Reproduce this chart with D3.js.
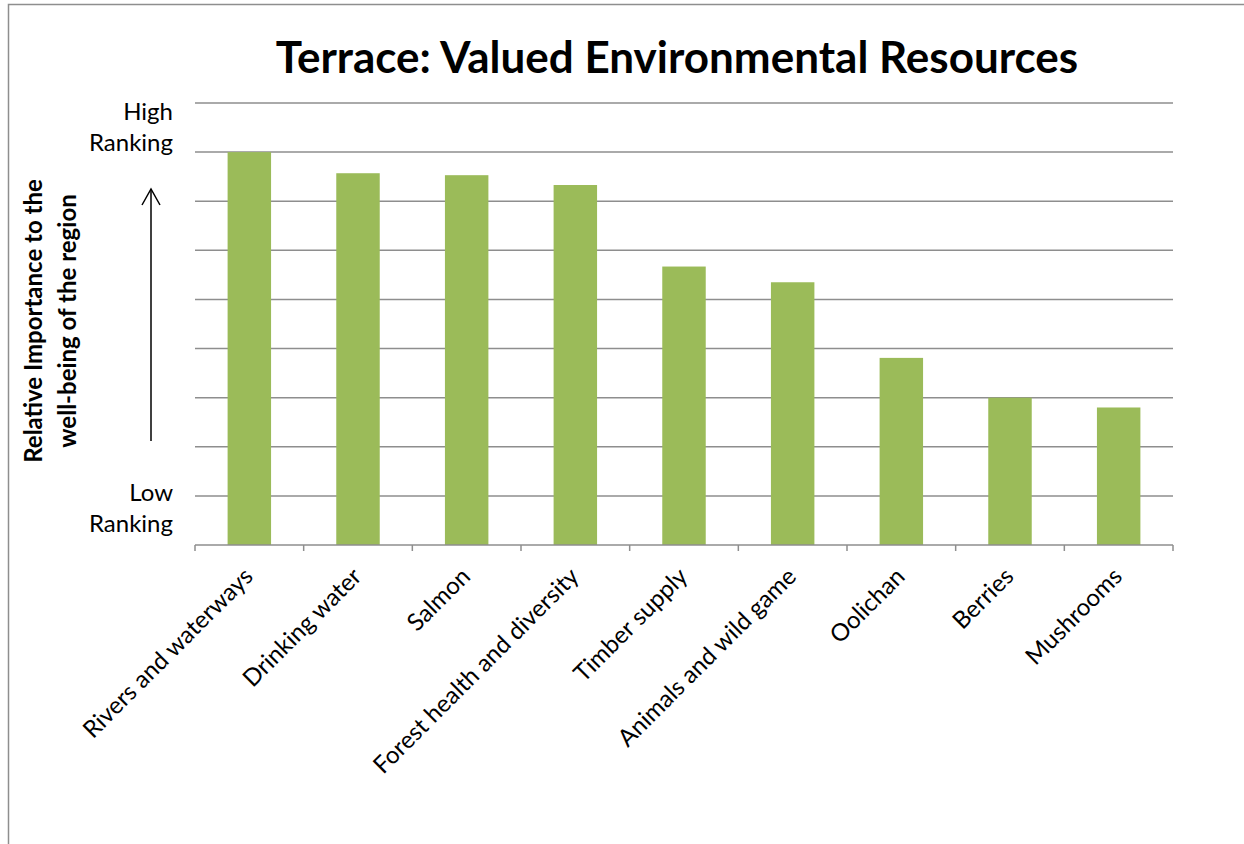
<!DOCTYPE html>
<html>
<head>
<meta charset="utf-8">
<script src="https://cdn.jsdelivr.net/npm/d3@7"></script>
<style>
  html, body { margin: 0; padding: 0; background: #fff; }
  svg { display: block; }
  text { font-family: Lato, "Open Sans", sans-serif; fill: #000; }
</style>
</head>
<body>
<svg id="chart" width="1244" height="844"></svg>
<script>
const title = "Terrace: Valued Environmental Resources";
const categories = ["Rivers and waterways", "Drinking water", "Salmon", "Forest health and diversity",
  "Timber supply", "Animals and wild game", "Oolichan", "Berries", "Mushrooms"];
const values = [8.0, 7.57, 7.53, 7.33, 5.67, 5.35, 3.81, 3.0, 2.8];
const yDomain = [0, 9];
const gridValues = [1, 2, 3, 4, 5, 6, 7, 8, 9];
const yTickLabels = [
  { lines: ["High", "Ranking"], value: 8.5 },
  { lines: ["Low", "Ranking"], value: 0.75 }
];
const yTitleLines = ["Relative Importance to the", "well-being of the region"];

const svg = d3.select("#chart");
const W = 1244, H = 844;
const plot = { left: 195, right: 1173, top: 103, bottom: 545 };

// outer chart border (extends off right/bottom)
svg.append("rect")
  .attr("x", 8.5).attr("y", 4.5)
  .attr("width", W + 20).attr("height", H + 20)
  .attr("fill", "none").attr("stroke", "#8e8e8e").attr("stroke-width", 1.5);

const x = d3.scaleBand().domain(categories)
  .range([plot.left, plot.right]).paddingInner(0.6).paddingOuter(0.3);
const y = d3.scaleLinear().domain(yDomain).range([plot.bottom, plot.top]);

// gridlines
svg.append("g").selectAll("line").data(gridValues).join("line")
  .attr("x1", plot.left).attr("x2", plot.right)
  .attr("y1", d => y(d)).attr("y2", d => y(d))
  .attr("stroke", "#8e8e8e").attr("stroke-width", 1.5);

// bars
svg.append("g").selectAll("rect").data(values).join("rect")
  .attr("x", (d, i) => x(categories[i]))
  .attr("width", x.bandwidth())
  .attr("y", d => y(d))
  .attr("height", d => y(0) - y(d))
  .attr("fill", "#9bbb59");

// x axis baseline and tick marks at category boundaries
const xAxisG = svg.append("g");
xAxisG.append("line")
  .attr("x1", plot.left).attr("x2", plot.right)
  .attr("y1", y(0)).attr("y2", y(0))
  .attr("stroke", "#8e8e8e").attr("stroke-width", 1.5);
const step = x.step();
const boundaries = d3.range(categories.length + 1).map(i => plot.left + i * step);
xAxisG.selectAll("line.tick").data(boundaries).join("line").attr("class", "tick")
  .attr("x1", d => d).attr("x2", d => d)
  .attr("y1", y(0)).attr("y2", y(0) + 6)
  .attr("stroke", "#8e8e8e").attr("stroke-width", 1.5);

// category labels rotated -45
xAxisG.selectAll("text.cat").data(categories).join("text").attr("class", "cat")
  .attr("transform", d => `translate(${x(d) + x.bandwidth() / 2 + 5},${y(0) + 33}) rotate(-45)`)
  .attr("text-anchor", "end")
  .style("font-size", "24px")
  .text(d => d);

// y tick labels (High / Low Ranking)
const lh = 31;
yTickLabels.forEach(t => {
  const txt = svg.append("text")
    .attr("text-anchor", "end")
    .style("font-size", "24px");
  t.lines.forEach((l, i) => {
    txt.append("tspan").attr("x", 173)
      .attr("y", y(t.value) + (i - (t.lines.length - 1) / 2) * lh + 8)
      .text(l);
  });
});

// y axis title
const yt = svg.append("text")
  .attr("transform", `translate(0,${(y(0) + y(9)) / 2 - 3}) rotate(-90)`)
  .attr("text-anchor", "middle")
  .style("font-size", "24px").style("font-weight", "bold");
yTitleLines.forEach((l, i) => {
  yt.append("tspan").attr("x", 0).attr("y", 42 + i * 34).text(l);
});

// arrow
svg.append("line").attr("x1", 151).attr("x2", 151).attr("y1", 441).attr("y2", 189)
  .attr("stroke", "#000").attr("stroke-width", 1.5);
svg.append("path").attr("d", "M142,205 L151,189 L160,205")
  .attr("fill", "none").attr("stroke", "#000").attr("stroke-width", 1.5);

// title
svg.append("text")
  .attr("x", 677).attr("y", 73)
  .attr("text-anchor", "middle")
  .style("font-size", "44px").style("font-weight", "bold")
  .text(title);
</script>
</body>
</html>
